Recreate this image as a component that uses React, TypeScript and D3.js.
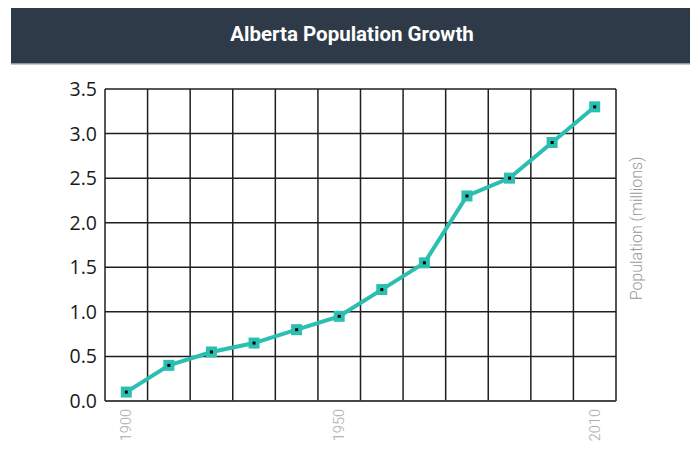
import React from "react";
import * as d3 from "d3";

const years = [1900, 1910, 1920, 1930, 1940, 1950, 1960, 1970, 1980, 1990, 2000, 2010];
const population = [0.1, 0.4, 0.55, 0.65, 0.8, 0.95, 1.25, 1.55, 2.3, 2.5, 2.9, 3.3];
const yTicks = [0, 0.5, 1, 1.5, 2, 2.5, 3, 3.5];
const xLabelYears = [1900, 1950, 2010];
const title = "Alberta Population Growth";
const yTitle = "Population (millions)";

export default function App() {
  const W = 690, H = 449;
  const left = 105, right = 616, top = 89, bottom = 401;
  const x = d3.scaleBand<number>().domain(years).range([left, right]);
  const y = d3.scaleLinear().domain([0, 3.5]).range([bottom, top]);
  const bw = x.bandwidth();
  const cx = (yr: number) => (x(yr) as number) + bw / 2;
  const line = d3.line<number>().x((_, i) => cx(years[i])).y((d) => y(d));
  const vLines = years.map((yr) => x(yr) as number).concat([right]);
  const teal = "#2abfb0";
  return (
    <svg width={W} height={H} style={{ position: "absolute", left: 0, top: 0, background: "#fff" }}>
      <rect x={11} y={8} width={W - 11} height={55} fill="#2e3a47" />
      <rect x={11} y={63} width={W - 11} height={1.5} fill="#8d959c" />
      <text x={352} y={41} textAnchor="middle" fill="#fff" fontFamily="Roboto" fontWeight={700} fontSize={20.5}>
        {title}
      </text>
      {vLines.map((vx, i) => (
        <line key={"v" + i} x1={vx} x2={vx} y1={top} y2={bottom} stroke="#1e1e1e" strokeWidth={1.5} />
      ))}
      {yTicks.map((t) => (
        <line key={"h" + t} x1={left} x2={right} y1={y(t)} y2={y(t)} stroke="#1e1e1e" strokeWidth={1.5} />
      ))}
      <line x1={left} x2={right} y1={bottom} y2={bottom} stroke="#444" strokeWidth={1.5} />
      {yTicks.map((t) => (
        <text key={"yl" + t} x={97} y={y(t) + 7} textAnchor="end" fill="#1a1a1a" fontFamily="Open Sans" fontSize={19.5}>
          {d3.format(".1f")(t)}
        </text>
      ))}
      {xLabelYears.map((yr) => (
        <text
          key={"xl" + yr}
          transform={`translate(${cx(yr) + 5},${409}) rotate(-90)`}
          textAnchor="end"
          fill="#aaa"
          fontFamily="Roboto"
          fontWeight={300}
          fontSize={14.5}
        >
          {yr}
        </text>
      ))}
      <text
        transform={`translate(${642},${228.5}) rotate(-90)`}
        textAnchor="middle"
        fill="#999"
        fontFamily="Roboto"
        fontWeight={300}
        fontSize={16}
      >
        {yTitle}
      </text>
      <path d={line(population) || ""} fill="none" stroke={teal} strokeWidth={4} />
      {population.map((v, i) => (
        <g key={"m" + i}>
          <rect x={cx(years[i]) - 5.5} y={y(v) - 5.5} width={11} height={11} fill={teal} />
          <rect x={cx(years[i]) - 1.5} y={y(v) - 1.5} width={3} height={3} fill="#000" />
        </g>
      ))}
    </svg>
  );
}
